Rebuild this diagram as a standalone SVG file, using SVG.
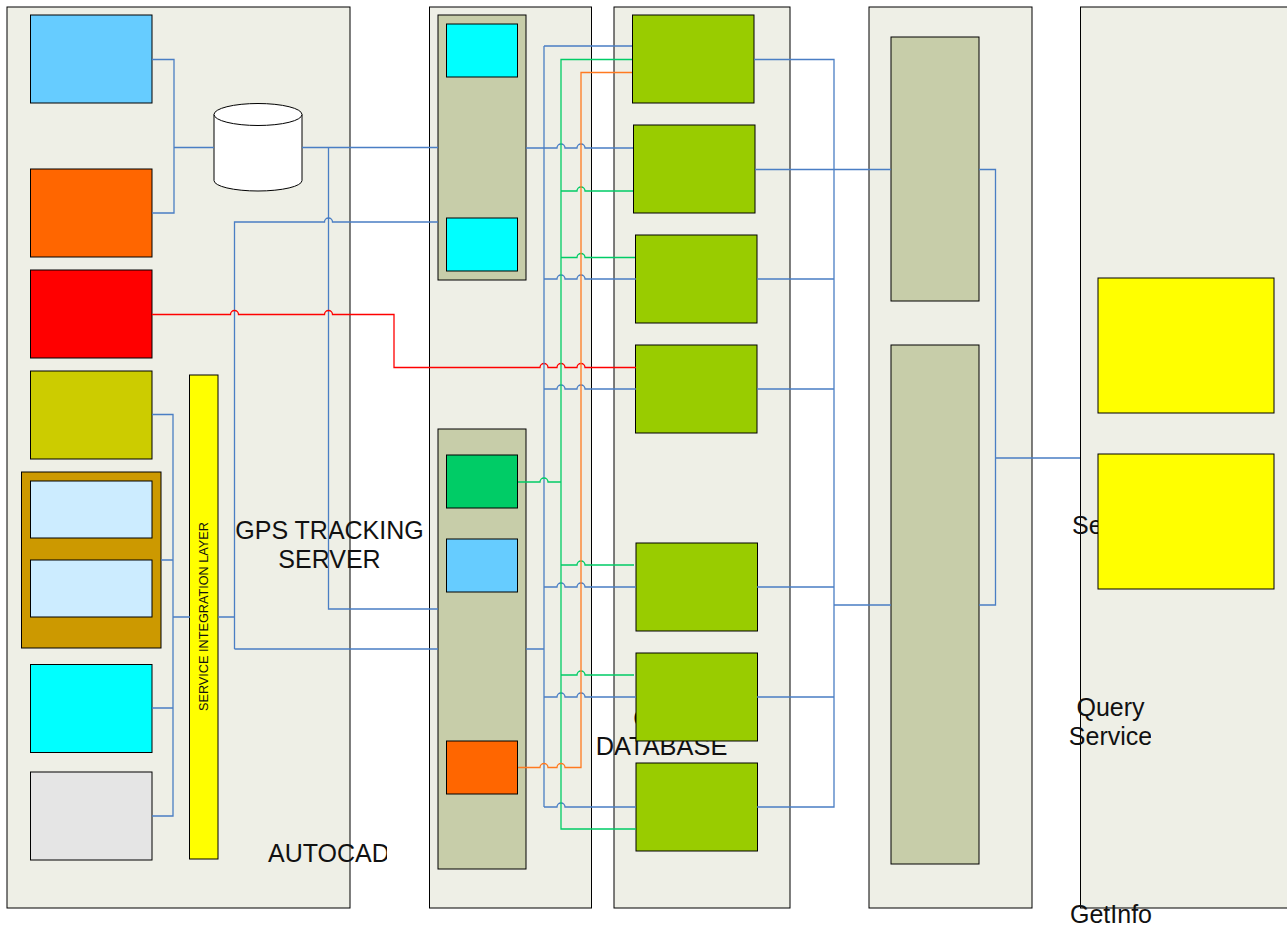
<svg xmlns="http://www.w3.org/2000/svg" width="1287" height="926" viewBox="0 0 1287 926">
<style>
rect,ellipse,.cyl{stroke:#000;stroke-width:1}
.panel{fill:#EEEFE6}
.cont{fill:#C7CDA9}
.lime{fill:#99CC00}
.cyan{fill:#00FFFF}
.sky{fill:#66CCFF}
.pale{fill:#CCECFF}
.orange{fill:#FF6600}
.yellow{fill:#FFFF00}
path.c{fill:none;stroke-width:1.3}
.b{stroke:#4A7EC4}
.g{stroke:#00CC66}
.o{stroke:#FF7A20}
.r{stroke:#FF0000}
text{font-family:"Liberation Sans",Arial,sans-serif;font-size:25px;fill:#111}
</style>
<defs>
<clipPath id="clipAuto"><rect x="250" y="830" width="137" height="50" style="stroke:none"/></clipPath>
<clipPath id="clipQuery"><rect x="1050" y="690" width="101" height="70" style="stroke:none"/></clipPath>
</defs>
<g id="panel-1"><rect class="panel" x="7" y="7" width="343" height="901"/></g>
<g id="panel-2"><rect class="panel" x="429.500" y="7" width="162" height="901"/></g>
<g id="panel-3"><rect class="panel" x="614" y="7" width="176" height="901"/></g>
<g id="panel-4"><rect class="panel" x="869" y="7" width="163" height="901"/></g>
<g id="panel-5"><rect class="panel" x="1080.500" y="7" width="220" height="901"/></g>
<g id="labels">
<text x="329.500" y="539" text-anchor="middle">GPS TRACKING</text>
<text x="329.500" y="568" text-anchor="middle">SERVER</text>
<text x="268" y="862" clip-path="url(#clipAuto)">AUTOCAD</text>
<text x="633.300" y="727">C</text>
<text x="661.500" y="755" text-anchor="middle" style="font-size:25.400px">DATABASE</text>
<text x="1072" y="534">Se</text>
<text x="1110.500" y="716" text-anchor="middle">Query</text>
<text x="1110.500" y="745" text-anchor="middle" clip-path="url(#clipQuery)">Service</text>
<text x="1070" y="923">GetInfo</text>
</g>
<g id="cylinder"><path class="cyl" fill="#fff" d="M214 114.500V180.500A44 10.500 0 0 0 302 180.500V114.500"/><ellipse cx="258" cy="114.500" rx="44" ry="11" fill="#fff"/></g>
<g id="box-sky-1"><rect class="sky" x="30.500" y="15" width="121.500" height="88"/></g>
<g id="box-orange-1"><rect class="orange" x="30.500" y="169" width="121.500" height="88"/></g>
<g id="box-red"><rect x="30.500" y="270" width="121.500" height="88" fill="#FF0000"/></g>
<g id="box-olive"><rect x="30.500" y="371" width="121.500" height="88" fill="#CCCC00"/></g>
<g id="box-brown"><rect x="21.500" y="472" width="139.500" height="176" fill="#CC9900"/><rect class="pale" x="30.500" y="481" width="121.500" height="57"/><rect class="pale" x="30.500" y="560" width="121.500" height="57"/></g>
<g id="box-cyan"><rect class="cyan" x="30.500" y="664.500" width="121.500" height="88"/></g>
<g id="box-grey"><rect x="30.500" y="772" width="121.500" height="88" fill="#E5E5E5"/></g>
<g id="integration-layer"><rect class="yellow" x="189.500" y="375" width="28.500" height="484"/><text transform="translate(208 711) rotate(-90)" style="font-size:12.700px">SERVICE INTEGRATION LAYER</text></g>
<g id="container-top"><rect class="cont" x="438" y="15" width="88" height="265"/><rect class="cyan" x="446.500" y="24" width="71" height="53"/><rect class="cyan" x="446.500" y="218" width="71" height="53"/></g>
<g id="container-bottom"><rect class="cont" x="438" y="429" width="88" height="440"/><rect x="446.500" y="455" width="71" height="53" fill="#00CC66"/><rect class="sky" x="446.500" y="539" width="71" height="53"/><rect class="orange" x="446.500" y="741" width="71" height="53"/></g>
<g id="lime-1"><rect class="lime" x="632.500" y="15" width="121.500" height="88"/></g>
<g id="lime-2"><rect class="lime" x="633.500" y="125" width="121.500" height="88"/></g>
<g id="lime-3"><rect class="lime" x="635.500" y="235" width="121.500" height="88"/></g>
<g id="lime-4"><rect class="lime" x="635.500" y="345" width="121.500" height="88"/></g>
<g id="lime-5"><rect class="lime" x="636" y="543" width="121.500" height="88"/></g>
<g id="lime-6"><rect class="lime" x="636" y="653" width="121.500" height="88"/></g>
<g id="lime-7"><rect class="lime" x="636" y="763" width="121.500" height="88"/></g>
<g id="col-top"><rect class="cont" x="891" y="37" width="88" height="264"/></g>
<g id="col-bottom"><rect class="cont" x="891" y="345" width="88" height="519"/></g>
<g id="yellow-1"><rect class="yellow" x="1098" y="278" width="176" height="135"/></g>
<g id="yellow-2"><rect class="yellow" x="1098" y="454" width="176" height="135"/></g>
<g id="connectors">
<path class="c b" d="M152 59.500H174V213H152M174 147.500H214"/>
<path class="c b" d="M302 147.500H438"/>
<path class="c b" d="M328.500 147.500V609H438"/>
<path class="c b" d="M218 617H234.500M234.500 649V222H324.500a4 4 0 0 1 8 0H438M234.500 649H438"/>
<path class="c r" d="M152 314.500H230.500a4 4 0 0 1 8 0H324.500a4 4 0 0 1 8 0H394V367.500H540a4 4 0 0 1 8 0H557a4 4 0 0 1 8 0H577a4 4 0 0 1 8 0H636"/>
<path class="c b" d="M152 414.500H173V816H152M161 560H173M152 708H173M173 617H190"/>
<path class="c b" d="M544 46V807M544 46H632"/>
<path class="c b" d="M526 148H557a4 4 0 0 1 8 0H577a4 4 0 0 1 8 0H633"/>
<path class="c b" d="M544 279H557a4 4 0 0 1 8 0H577a4 4 0 0 1 8 0H636"/>
<path class="c b" d="M544 389H557a4 4 0 0 1 8 0H577a4 4 0 0 1 8 0H636"/>
<path class="c b" d="M544 587H557a4 4 0 0 1 8 0H577a4 4 0 0 1 8 0H636"/>
<path class="c b" d="M544 697H557a4 4 0 0 1 8 0H577a4 4 0 0 1 8 0H636"/>
<path class="c b" d="M526 649H544M544 807H557a4 4 0 0 1 8 0H636"/>
<path class="c g" d="M632 59.500H561V829H636"/>
<path class="c g" d="M561 191H577a4 4 0 0 1 8 0H633"/>
<path class="c g" d="M561 257.500H577a4 4 0 0 1 8 0H635"/>
<path class="c g" d="M518 482H540a4 4 0 0 1 8 0H561"/>
<path class="c g" d="M561 565H577a4 4 0 0 1 8 0H634"/>
<path class="c g" d="M561 675H577a4 4 0 0 1 8 0H634"/>
<path class="c o" d="M632 72.500H581V767.500H565a4 4 0 0 0 -8 0H548a4 4 0 0 0 -8 0H518"/>
<path class="c b" d="M754 59.500H834V807H757M755 169.500H891M757 279H834M757 389H834M757 587H834M757 697H834M834 605H891"/>
<path class="c b" d="M979 169.500H995.500V605H979M995.500 458H1080"/>
</g>
</svg>
